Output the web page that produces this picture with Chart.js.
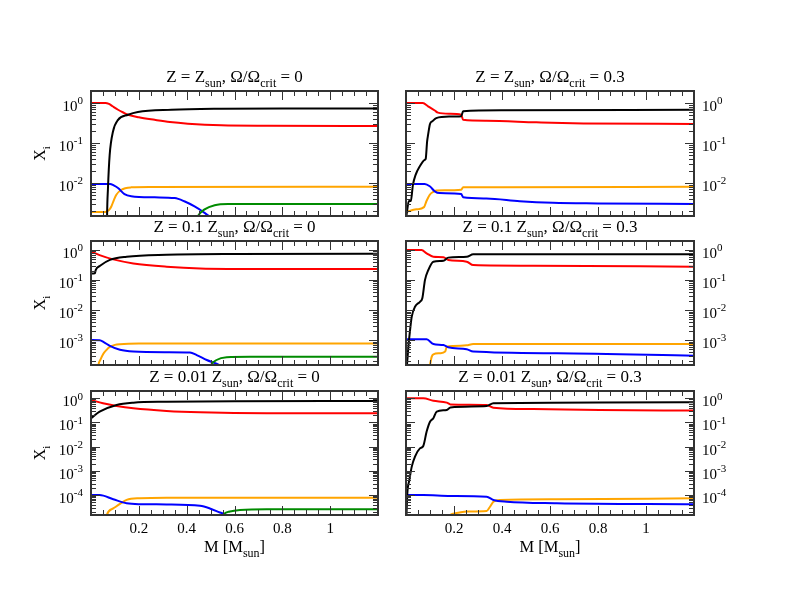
<!DOCTYPE html>
<html lang="en">
<head>
  <meta charset="UTF-8">
  <title>Abundance profiles</title>
  <script src="https://cdn.jsdelivr.net/npm/chart.js"></script>
  <style>
    body { margin: 0; background: #fff; }
    #wrap { position: relative; width: 785px; height: 607px; }
    #wrap canvas { position: absolute; left: 0; top: 0; }
  </style>
</head>
<body>
<div id="wrap"></div>

<script>
  // ---- data: [M (Msun), X_i] ----
  // Z = Zsun, no rotation
  const zsunW0_H  = [[0,1.0],[0.06,1.0],[0.075,0.95],[0.09,0.83],[0.113,0.68],[0.135,0.58],[0.155,0.51],[0.2,0.44],[0.266,0.38],[0.33,0.335],[0.405,0.305],[0.545,0.277],[0.74,0.27],[1.2,0.267]];
  const zsunW0_He = [[0,1e-5],[0.064,1e-5],[0.067,0.0012],[0.071,0.0075],[0.078,0.05],[0.092,0.195],[0.113,0.38],[0.155,0.51],[0.196,0.6],[0.336,0.68],[0.545,0.72],[0.8,0.73],[1.2,0.73]];
  const zsunW0_N  = [[0,0.0019],[0.06,0.0019],[0.075,0.0021],[0.085,0.0026],[0.096,0.0038],[0.106,0.0051],[0.127,0.0068],[0.168,0.0078],[0.25,0.008],[1.2,0.0081]];
  const zsunW0_C  = [[0,0.0095],[0.08,0.0095],[0.095,0.0087],[0.113,0.0075],[0.14,0.0053],[0.168,0.0047],[0.266,0.0044],[0.35,0.0042],[0.39,0.0035],[0.433,0.0026],[0.475,0.0018],[0.5,0.0014],[0.55,0.0008]];
  const zsunW0_O  = [[0.43,0.0008],[0.447,0.0015],[0.475,0.0022],[0.517,0.0028],[0.573,0.003],[1.2,0.003]];

  // Z = Zsun, Omega/Omega_crit = 0.3
  const zsunW3_H  = [[0,1.0],[0.07,1.0],[0.092,0.83],[0.12,0.65],[0.133,0.575],[0.182,0.54],[0.23,0.51],[0.238,0.38],[0.335,0.36],[0.543,0.33],[0.74,0.31],[1.2,0.3]];
  const zsunW3_He = [[0,0.0012],[0.004,0.0019],[0.012,0.0035],[0.02,0.0036],[0.029,0.0091],[0.04,0.016],[0.057,0.026],[0.078,0.038],[0.082,0.04],[0.088,0.11],[0.092,0.16],[0.1,0.3],[0.11,0.35],[0.126,0.42],[0.18,0.46],[0.23,0.47],[0.238,0.62],[0.4,0.66],[1.2,0.68]];
  const zsunW3_N  = [[0,0.0019],[0.043,0.0022],[0.075,0.0025],[0.085,0.0035],[0.099,0.0051],[0.113,0.006],[0.126,0.0065],[0.23,0.0068],[0.238,0.0078],[0.4,0.0079],[1.2,0.0081]];
  const zsunW3_C  = [[0,0.0095],[0.078,0.0095],[0.099,0.0083],[0.12,0.0062],[0.14,0.0056],[0.23,0.0053],[0.238,0.0044],[0.335,0.0041],[0.474,0.0035],[0.612,0.0032],[0.8,0.0031],[1.2,0.003]];

  // Z = 0.1 Zsun, no rotation
  const z01W0_H  = [[0,0.9],[0.036,0.68],[0.093,0.49],[0.177,0.36],[0.316,0.28],[0.456,0.245],[0.734,0.234],[1.2,0.234]];
  const z01W0_He = [[0,0.165],[0.016,0.168],[0.02,0.22],[0.038,0.3],[0.079,0.47],[0.149,0.6],[0.316,0.7],[0.595,0.74],[1.2,0.75]];
  const z01W0_N  = [[0.025,5e-5],[0.031,1.5e-4],[0.04,2.3e-4],[0.051,3.5e-4],[0.065,4.8e-4],[0.079,6e-4],[0.1,7e-4],[0.121,7.4e-4],[0.2,7.8e-4],[1.2,7.8e-4]];
  const z01W0_C  = [[0,1.02e-3],[0.036,1.0e-3],[0.055,8.5e-4],[0.079,6.5e-4],[0.121,4.8e-4],[0.177,4.2e-4],[0.316,4.0e-4],[0.414,3.9e-4],[0.442,3.2e-4],[0.484,2.2e-4],[0.539,1.45e-4],[0.58,8e-5]];
  const z01W0_O  = [[0.48,5e-5],[0.5,1.45e-4],[0.525,2.2e-4],[0.567,2.7e-4],[0.665,2.8e-4],[1.2,2.8e-4]];

  // Z = 0.1 Zsun, Omega/Omega_crit = 0.3
  const z01W3_H  = [[0,1.0],[0.065,1.0],[0.086,0.78],[0.114,0.6],[0.156,0.58],[0.176,0.47],[0.253,0.41],[0.28,0.316],[0.53,0.3],[1.2,0.28]];
  const z01W3_He = [[0,5e-5],[0.004,1.5e-4],[0.01,6.1e-4],[0.017,2.2e-3],[0.024,6.1e-3],[0.0375,0.013],[0.058,0.019],[0.068,0.0248],[0.079,0.1],[0.093,0.217],[0.114,0.41],[0.156,0.44],[0.176,0.56],[0.253,0.6],[0.28,0.72],[1.2,0.72]];
  const z01W3_N  = [[0.09,5e-5],[0.1,1.5e-4],[0.107,2.8e-4],[0.114,3.4e-4],[0.142,3.7e-4],[0.163,4.2e-4],[0.17,6.1e-4],[0.197,6.4e-4],[0.253,6.8e-4],[0.28,7.5e-4],[1.2,7.5e-4]];
  const z01W3_C  = [[0,1.07e-3],[0.086,1.07e-3],[0.114,7.5e-4],[0.156,6.9e-4],[0.176,5.8e-4],[0.253,5e-4],[0.28,4.2e-4],[0.628,3.7e-4],[1.2,3.05e-4]];

  // Z = 0.01 Zsun, no rotation
  const z001W0_H  = [[0,0.85],[0.05,0.62],[0.107,0.48],[0.177,0.385],[0.316,0.3],[0.456,0.263],[0.734,0.24],[1.2,0.24]];
  const z001W0_He = [[0,0.15],[0.036,0.28],[0.107,0.53],[0.177,0.66],[0.316,0.72],[0.6,0.76],[1.2,0.77]];
  const z001W0_N  = [[0.055,3e-6],[0.066,1.5e-5],[0.093,2.8e-5],[0.121,4.3e-5],[0.149,6.3e-5],[0.205,7.4e-5],[0.316,7.8e-5],[1.2,7.8e-5]];
  const z001W0_C  = [[0,1.0e-4],[0.036,1.0e-4],[0.093,6.7e-5],[0.149,4.6e-5],[0.205,4.2e-5],[0.316,4.1e-5],[0.456,3.6e-5],[0.497,2.8e-5],[0.539,1.9e-5],[0.567,1.5e-5],[0.6,8e-6]];
  const z001W0_O  = [[0.54,5e-6],[0.553,1.5e-5],[0.581,2.1e-5],[0.623,2.4e-5],[0.734,2.6e-5],[1.2,2.6e-5]];

  // Z = 0.01 Zsun, Omega/Omega_crit = 0.3
  const z001W3_H  = [[0,1.0],[0.072,1.0],[0.114,0.79],[0.17,0.66],[0.185,0.56],[0.336,0.53],[0.364,0.41],[0.53,0.36],[0.808,0.33],[1.2,0.31]];
  const z001W3_He = [[0,3e-6],[0.002,1.5e-5],[0.0056,1.2e-4],[0.014,4.2e-4],[0.024,1.5e-3],[0.0375,3.9e-3],[0.058,8.5e-3],[0.072,0.0107],[0.086,0.042],[0.1,0.107],[0.114,0.15],[0.128,0.28],[0.17,0.33],[0.185,0.42],[0.336,0.48],[0.364,0.62],[1.2,0.68]];
  const z001W3_N  = [[0.17,5e-6],[0.183,1.5e-5],[0.21,1.8e-5],[0.253,2.1e-5],[0.336,2.2e-5],[0.35,3.3e-5],[0.364,5.3e-5],[0.392,6.3e-5],[0.628,6.7e-5],[1.2,7.4e-5]];
  const z001W3_C  = [[0,1.0e-4],[0.072,1.0e-4],[0.185,9.2e-5],[0.336,8.6e-5],[0.364,6.3e-5],[0.42,5.3e-5],[0.628,4.6e-5],[1.2,4.2e-5]];

  // ---- axes ----
  const massTicks = [0.2, 0.4, 0.6, 0.8, 1];
  const massTickLabels = ['0.2', '0.4', '0.6', '0.8', '1'];
  const rowDecades = [[0, -1, -2], [0, -1, -2, -3], [0, -1, -2, -3, -4]];
  const rowYMin = [1.5e-3, 1.5e-4, 1.5e-5];
  const Y_MAX = 2;
  const X_MIN = 0, X_MAX = 1.2;

  const titles = [
    ['Z = Z_{sun}, Ω/Ω_{crit} = 0', 'Z = Z_{sun}, Ω/Ω_{crit} = 0.3'],
    ['Z = 0.1 Z_{sun}, Ω/Ω_{crit} = 0', 'Z = 0.1 Z_{sun}, Ω/Ω_{crit} = 0.3'],
    ['Z = 0.01 Z_{sun}, Ω/Ω_{crit} = 0', 'Z = 0.01 Z_{sun}, Ω/Ω_{crit} = 0.3']
  ];
  const yTitle = 'X_{i}';
  const xTitle = 'M [M_{sun}]';

  const colors = { H: '#ff0000', He: '#000000', C: '#0000ff', N: '#ffa500', O: '#008b00' };

  // ---- layout (pixels on the page) ----
  const PAGE_W = 785, PAGE_H = 607;
  const colX = [[91, 378], [406, 694]];
  const rowY = [[91, 216], [241, 365], [391, 515]];
  const FONT = '"Liberation Serif", "DejaVu Serif", serif';

  const panels = [
    { row: 0, col: 0, series: { He: zsunW0_He, H: zsunW0_H, O: zsunW0_O, C: zsunW0_C, N: zsunW0_N } },
    { row: 0, col: 1, series: { He: zsunW3_He, H: zsunW3_H, C: zsunW3_C, N: zsunW3_N } },
    { row: 1, col: 0, series: { He: z01W0_He, H: z01W0_H, O: z01W0_O, C: z01W0_C, N: z01W0_N } },
    { row: 1, col: 1, series: { He: z01W3_He, H: z01W3_H, C: z01W3_C, N: z01W3_N } },
    { row: 2, col: 0, series: { He: z001W0_He, H: z001W0_H, O: z001W0_O, C: z001W0_C, N: z001W0_N } },
    { row: 2, col: 1, series: { He: z001W3_He, H: z001W3_H, C: z001W3_C, N: z001W3_N } }
  ];

  // text with _{sub} and ^{sup} parts
  function richParts(str, size) {
    const parts = [];
    str.replace(/([_^])\{([^}]*)\}|([^_^]+)/g, (m, mode, inner, plain) => {
      if (plain) parts.push({ t: plain, s: size, dy: 0 });
      else parts.push({ t: inner, s: Math.round(size * 0.7), dy: mode === '_' ? size * 0.32 : -size * 0.45 });
    });
    return parts;
  }

  function drawRich(ctx, str, x, y, size, align) {
    const parts = richParts(str, size);
    let w = 0;
    parts.forEach(p => { ctx.font = p.s + 'px ' + FONT; p.w = ctx.measureText(p.t).width; w += p.w; });
    let cx = align === 'center' ? x - w / 2 : align === 'right' ? x - w : x;
    ctx.textAlign = 'left';
    ctx.textBaseline = 'alphabetic';
    parts.forEach(p => {
      ctx.font = p.s + 'px ' + FONT;
      ctx.fillText(p.t, cx, y + p.dy);
      cx += p.w;
    });
  }

  function makeAxesPlugin(panel) {
    return {
      id: 'graceAxes',
      afterDraw(chart) {
        const { ctx, chartArea: a } = chart;
        const xs = chart.scales.x, ys = chart.scales.y;
        const yMin = rowYMin[panel.row];
        ctx.save();
        ctx.fillStyle = '#000';

        // inward ticks on all four sides
        ctx.strokeStyle = '#333';
        ctx.lineWidth = 1;
        ctx.beginPath();
        for (let i = 0; i * 0.05 <= X_MAX + 1e-9; i++) {
          const px = Math.round(xs.getPixelForValue(i * 0.05)) + 0.5;
          const len = i % 4 === 0 ? 9 : 5;
          ctx.moveTo(px, a.bottom); ctx.lineTo(px, a.bottom - len);
          ctx.moveTo(px, a.top); ctx.lineTo(px, a.top + len);
        }
        for (let e = Math.floor(Math.log10(yMin)); e <= 0; e++) {
          for (let k = 1; k <= 9; k++) {
            const v = k * Math.pow(10, e);
            if (v < yMin || v > Y_MAX) continue;
            const py = Math.round(ys.getPixelForValue(v)) + 0.5;
            const len = k === 1 ? 9 : 5;
            ctx.moveTo(a.left, py); ctx.lineTo(a.left + len, py);
            ctx.moveTo(a.right, py); ctx.lineTo(a.right - len, py);
          }
        }
        ctx.stroke();

        // frame
        ctx.strokeStyle = '#333';
        ctx.lineWidth = 2;
        ctx.strokeRect(a.left, a.top, a.right - a.left, a.bottom - a.top);

        // decade labels
        rowDecades[panel.row].forEach(e => {
          const py = ys.getPixelForValue(Math.pow(10, e));
          const label = '10^{' + (e === 0 ? '0' : '-' + (-e)) + '}';
          if (panel.col === 0) drawRich(ctx, label, a.left - 8, py + 8, 15, 'right');
          else drawRich(ctx, label, a.right + 8, py + 8, 15, 'left');
        });

        // mass labels on the bottom row only
        if (panel.row === 2) {
          massTicks.forEach((v, i) => {
            drawRich(ctx, massTickLabels[i], xs.getPixelForValue(v), a.bottom + 18, 15, 'center');
          });
          drawRich(ctx, xTitle, (a.left + a.right) / 2, a.bottom + 37, 16.5, 'center');
        }

        // y title on the left column
        if (panel.col === 0) {
          ctx.save();
          ctx.translate(45, (a.top + a.bottom) / 2);
          ctx.rotate(-Math.PI / 2);
          drawRich(ctx, yTitle, 0, 0, 16, 'center');
          ctx.restore();
        }

        // panel title
        drawRich(ctx, titles[panel.row][panel.col], (a.left + a.right) / 2, a.top - 9, 17, 'center');
        ctx.restore();
      }
    };
  }

  const wrap = document.getElementById('wrap');
  panels.forEach(panel => {
    const canvas = document.createElement('canvas');
    canvas.width = PAGE_W;
    canvas.height = PAGE_H;
    wrap.appendChild(canvas);
    const [left, right] = colX[panel.col];
    const [top, bottom] = rowY[panel.row];

    const datasets = Object.keys(panel.series).map(name => ({
      label: name,
      data: panel.series[name].map(p => ({ x: p[0], y: p[1] })),
      borderColor: colors[name],
      borderWidth: 2,
      pointRadius: 0,
      fill: false,
      cubicInterpolationMode: 'monotone',
      clip: 0
    }));

    new Chart(canvas, {
      type: 'line',
      data: { datasets },
      options: {
        responsive: false,
        animation: false,
        events: [],
        layout: { padding: { left: left, top: top, right: PAGE_W - right, bottom: PAGE_H - bottom } },
        plugins: { legend: { display: false }, tooltip: { enabled: false }, title: { display: false } },
        scales: {
          x: { type: 'linear', min: X_MIN, max: X_MAX, display: false },
          y: { type: 'logarithmic', min: rowYMin[panel.row], max: Y_MAX, display: false }
        }
      },
      plugins: [makeAxesPlugin(panel)]
    });
  });
</script>
</body>
</html>
